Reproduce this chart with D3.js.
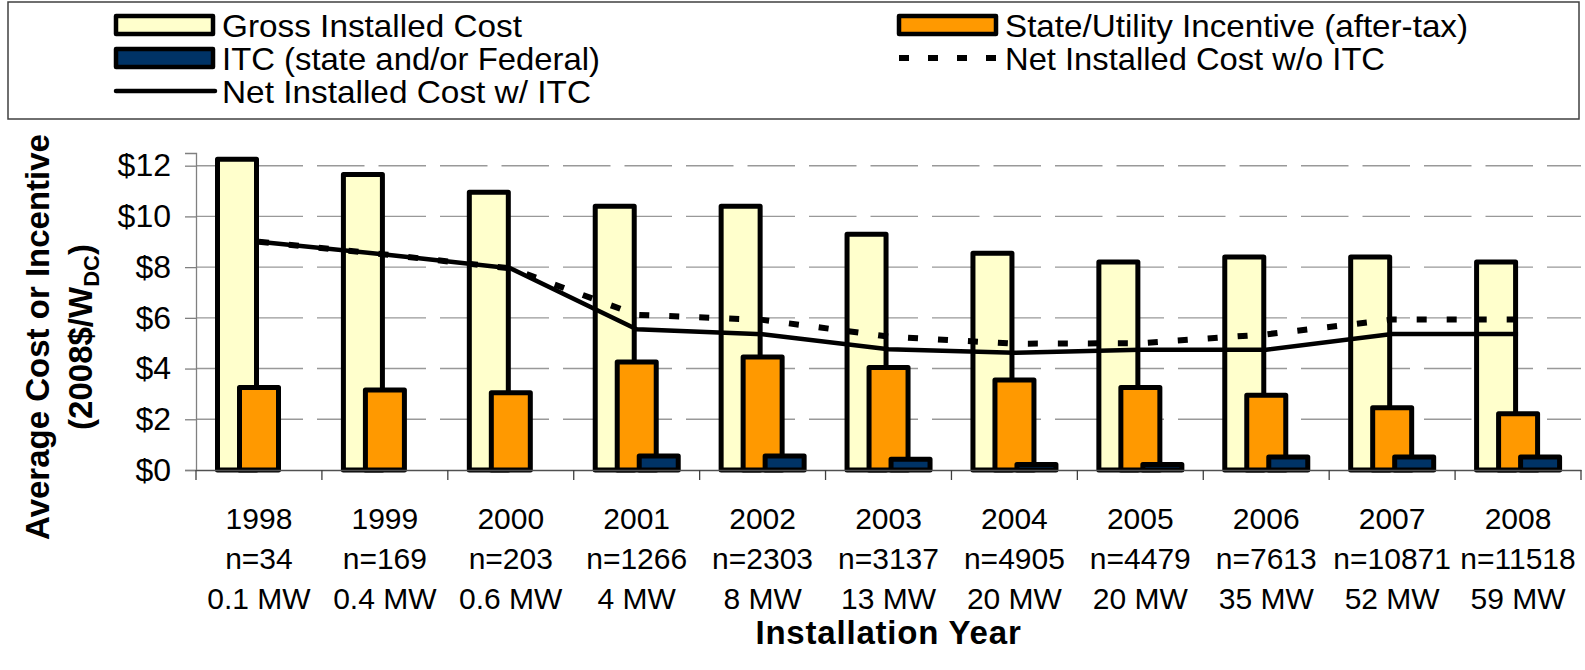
<!DOCTYPE html>
<html>
<head>
<meta charset="utf-8">
<script src="https://cdn.jsdelivr.net/npm/d3@7"></script>
<style>
  body { margin: 0; background: #fff; }
  svg text { font-family: "Liberation Sans", Arial, sans-serif; fill: #000; }
</style>
</head>
<body>
<div id="chart"></div>
<script>
// chart data
var years = ["1998", "1999", "2000", "2001", "2002", "2003", "2004", "2005", "2006", "2007", "2008"];
var counts = ["n=34", "n=169", "n=203", "n=1266", "n=2303", "n=3137", "n=4905", "n=4479", "n=7613", "n=10871", "n=11518"];
var capacity = ["0.1 MW", "0.4 MW", "0.6 MW", "4 MW", "8 MW", "13 MW", "20 MW", "20 MW", "35 MW", "52 MW", "59 MW"];
var grossCost = [12.25, 11.65, 10.95, 10.4, 10.4, 9.3, 8.55, 8.2, 8.4, 8.4, 8.2];
var stateIncentive = [3.25, 3.15, 3.05, 4.26, 4.46, 4.04, 3.55, 3.25, 2.95, 2.45, 2.22];
var itc = [0, 0, 0, 0.55, 0.55, 0.42, 0.22, 0.22, 0.51, 0.51, 0.51];
var netNoItc = [9.0, 8.5, 7.95, 6.12, 5.92, 5.26, 4.98, 5.0, 5.35, 5.93, 5.93];
var netWithItc = [9.0, 8.5, 7.95, 5.55, 5.35, 4.76, 4.62, 4.74, 4.74, 5.36, 5.36];
var yTicks = [0, 2, 4, 6, 8, 10, 12];

var svgWidth = 1585;
var svgHeight = 670;

var margin = { top: 153, right: 4, bottom: 200, left: 196 };
var chartWidth = svgWidth - margin.left - margin.right;
var chartHeight = svgHeight - margin.top - margin.bottom;

var svg = d3.select("#chart")
  .append("svg")
  .attr("width", svgWidth)
  .attr("height", svgHeight);

// legend box
svg.append("rect")
  .attr("x", 8).attr("y", 2)
  .attr("width", 1571).attr("height", 117)
  .attr("fill", "#fff")
  .attr("stroke", "#404040")
  .attr("stroke-width", 1.5);

var chart = svg.append("g")
  .attr("transform", "translate(" + margin.left + "," + margin.top + ")");

var xScale = d3.scaleBand().domain(years).range([0, chartWidth]);
var yScale = d3.scaleLinear().domain([0, 12.5]).range([chartHeight, 0]);

// bars overlap by half a bar, so offsets inside each band
var series = ["gross", "state", "itc"];
var barWidth = 39;
var barOffset = d3.scalePoint().domain(series).range([41, 85]);

// gridlines
chart.append("g")
  .selectAll("line")
  .data(yTicks.filter(d => d > 0))
  .enter()
  .append("line")
  .attr("x1", 0)
  .attr("x2", chartWidth)
  .attr("y1", d => yScale(d))
  .attr("y2", d => yScale(d))
  .attr("stroke", "#999")
  .attr("stroke-width", 1.4)
  .attr("stroke-dasharray", "47.5 14")
  .attr("stroke-dashoffset", 2);

var leftAxis = d3.axisLeft(yScale)
  .tickValues(yTicks)
  .tickSize(11)
  .tickPadding(14)
  .tickFormat(d => "$" + d);

var yAxis = chart.append("g").call(leftAxis);
yAxis.select(".domain").attr("stroke", "#808080").attr("stroke-width", 1.3);
yAxis.selectAll(".tick line").attr("stroke", "#808080").attr("stroke-width", 1.3);
yAxis.selectAll(".tick text")
  .style("font-size", "32px")
  .style("font-family", "Liberation Sans, Arial, sans-serif")
  .attr("fill", "#000");

var barData = [
  { key: "gross", values: grossCost, color: "#FFFFCC" },
  { key: "state", values: stateIncentive, color: "#FF9900" },
  { key: "itc", values: itc, color: "#003366" }
];

barData.forEach(function(s) {
  chart.append("g")
    .selectAll("rect")
    .data(years.map((y, i) => ({ year: y, value: s.values[i] })).filter(d => d.value > 0))
    .enter()
    .append("rect")
    .attr("x", d => xScale(d.year) + barOffset(s.key) - barWidth / 2)
    .attr("y", d => yScale(d.value))
    .attr("width", barWidth)
    .attr("height", d => chartHeight - yScale(d.value))
    .attr("fill", s.color)
    .attr("stroke", "#000")
    .attr("stroke-width", 5)
    .attr("stroke-linejoin", "round");
});

// x axis
var bottomAxis = d3.axisBottom(xScale).tickSize(0).tickFormat("");
var xAxis = chart.append("g")
  .attr("transform", `translate(0, ${chartHeight})`)
  .call(bottomAxis);
xAxis.select(".domain").attr("stroke", "#505050").attr("stroke-width", 1.6);

chart.append("g")
  .selectAll("line")
  .data(years.concat(["end"]))
  .enter()
  .append("line")
  .attr("x1", (d, i) => i * xScale.step())
  .attr("x2", (d, i) => i * xScale.step())
  .attr("y1", chartHeight)
  .attr("y2", chartHeight + 10)
  .attr("stroke", "#404040")
  .attr("stroke-width", 1.3);

var labelRows = [years, counts, capacity];
labelRows.forEach(function(row, r) {
  chart.append("g")
    .selectAll("text")
    .data(row)
    .enter()
    .append("text")
    .attr("x", (d, i) => xScale(years[i]) + xScale.bandwidth() / 2)
    .attr("y", chartHeight + 48 + r * 40)
    .attr("dy", "0.35em")
    .attr("text-anchor", "middle")
    .style("font-size", "30px")
    .text(d => d);
});

// lines
var cx = (d, i) => xScale(years[i]) + xScale.bandwidth() / 2;

chart.append("path")
  .datum(netNoItc)
  .attr("fill", "none")
  .attr("stroke", "#000")
  .attr("stroke-width", 6)
  .attr("stroke-dasharray", "10 20")
  .attr("d", d3.line().x(cx).y(d => yScale(d)));

chart.append("path")
  .datum(netWithItc)
  .attr("fill", "none")
  .attr("stroke", "#000")
  .attr("stroke-width", 4.5)
  .attr("d", d3.line().x(cx).y(d => yScale(d)));

// axis titles
var yTitle = svg.append("text")
  .attr("transform", "translate(49,337) rotate(-90)")
  .attr("text-anchor", "middle")
  .style("font-size", "33px")
  .style("font-weight", "bold");
yTitle.append("tspan").attr("x", 0).attr("y", 0).text("Average Cost or Incentive");
yTitle.append("tspan").attr("x", 0).attr("y", 43).text("(2008$/W");
yTitle.append("tspan").attr("dy", 7).style("font-size", "22px").text("DC");
yTitle.append("tspan").attr("dy", -7).text(")");

svg.append("text")
  .attr("x", margin.left + chartWidth / 2)
  .attr("y", 644)
  .attr("text-anchor", "middle")
  .style("font-size", "33px")
  .style("font-weight", "bold")
  .style("letter-spacing", "0.8px")
  .text("Installation Year");

// legend (text widths)
var legendItems = [
  { label: "Gross Installed Cost", type: "box", color: "#FFFFCC", x: 114, y: 25, w: 300 },
  { label: "State/Utility Incentive (after-tax)", type: "box", color: "#FF9900", x: 897, y: 25, w: 463 },
  { label: "ITC (state and/or Federal)", type: "box", color: "#003366", x: 114, y: 58, w: 378 },
  { label: "Net Installed Cost w/o ITC", type: "dash", x: 897, y: 58, w: 380 },
  { label: "Net Installed Cost w/ ITC", type: "line", x: 114, y: 91, w: 369 }
];

var legend = svg.append("g");
legendItems.forEach(function(item) {
  var g = legend.append("g").attr("transform", "translate(" + item.x + "," + item.y + ")");
  if (item.type === "box") {
    g.append("rect")
      .attr("x", 2).attr("y", -9)
      .attr("width", 97).attr("height", 18)
      .attr("fill", item.color)
      .attr("stroke", "#000")
      .attr("stroke-width", 4.5)
      .attr("stroke-linejoin", "round");
  } else {
    g.append("line")
      .attr("x1", 2).attr("x2", 101)
      .attr("y1", 0).attr("y2", 0)
      .attr("stroke", "#000")
      .attr("stroke-width", item.type === "dash" ? 6 : 4.5)
      .attr("stroke-dasharray", item.type === "dash" ? "10 19" : null)
      .attr("stroke-linecap", item.type === "dash" ? "butt" : "round");
  }
  g.append("text")
    .attr("x", 108)
    .attr("y", 0)
    .attr("dy", "0.36em")
    .attr("textLength", item.w)
    .attr("lengthAdjust", "spacingAndGlyphs")
    .style("font-size", "32px")
    .text(item.label);
});
</script>
</body>
</html>
